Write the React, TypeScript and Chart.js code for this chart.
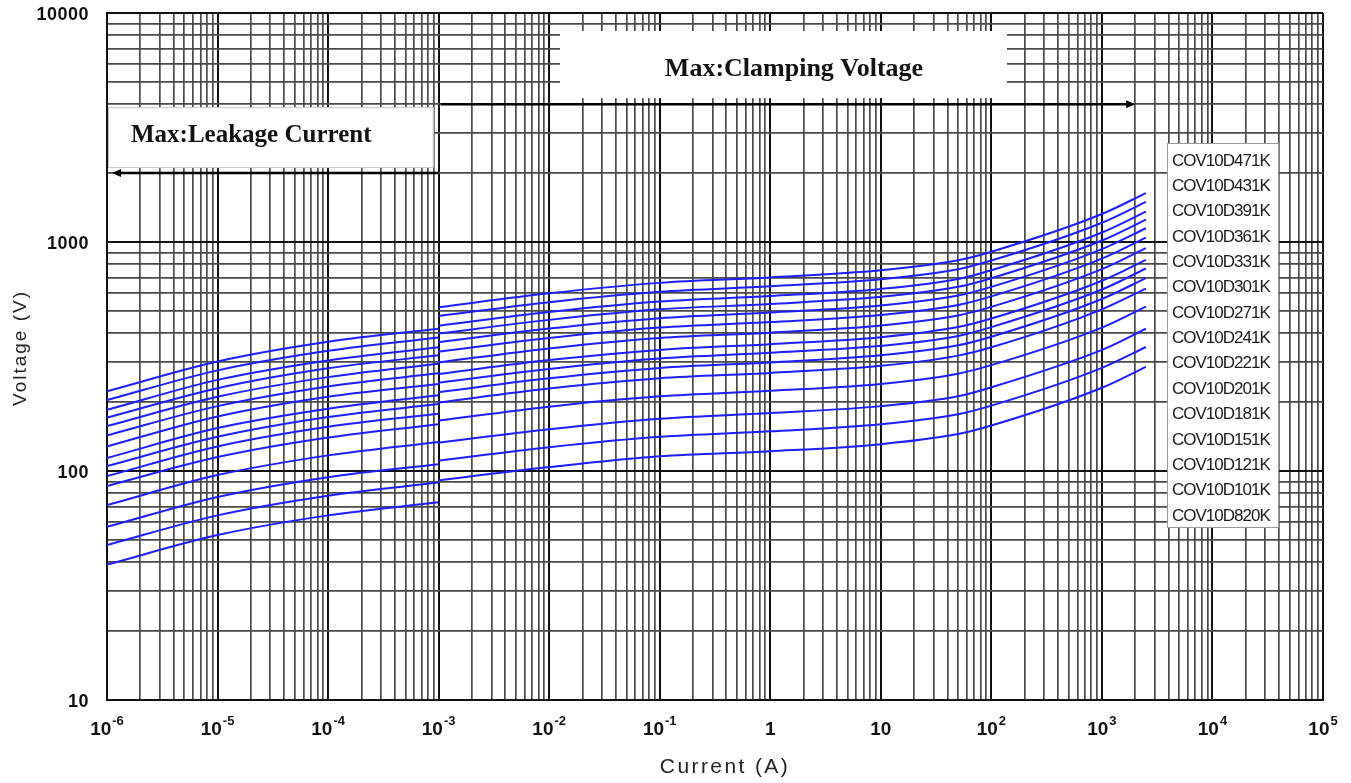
import { useEffect, useRef } from 'react';
import { Chart, registerables } from 'chart.js';

Chart.register(...registerables);

// Current (A) sample points
const CURRENT_LEAK = [1e-6, 1e-5, 1e-4, 1e-3];
const CURRENT_CLAMP = [1e-3, 1e-2, 1e-1, 1, 10, 50, 100, 1000, 2500];

const MODELS = [
  'COV10D471K', 'COV10D431K', 'COV10D391K', 'COV10D361K', 'COV10D331K',
  'COV10D301K', 'COV10D271K', 'COV10D241K', 'COV10D221K', 'COV10D201K',
  'COV10D181K', 'COV10D151K', 'COV10D121K', 'COV10D101K', 'COV10D820K',
];

// Max leakage current curves (V)
const LEAK_471K = [223, 301, 367, 418];
const LEAK_431K = [204, 275, 335, 383];
const LEAK_391K = [185, 250, 304, 347];
const LEAK_361K = [171, 230, 281, 320];
const LEAK_331K = [157, 211, 257, 294];
const LEAK_301K = [143, 192, 234, 267];
const LEAK_271K = [128, 173, 211, 240];
const LEAK_241K = [114, 154, 187, 214];
const LEAK_221K = [105, 141, 172, 196];
const LEAK_201K = [95, 128, 156, 178];
const LEAK_181K = [86, 115, 140, 160];
const LEAK_151K = [71, 96, 117, 134];
const LEAK_121K = [57, 77, 94, 107];
const LEAK_101K = [47.5, 64, 78, 89];
const LEAK_820K = [39, 52.5, 64, 73];

// Max clamping voltage curves (V)
const CLAMP_471K = [519, 597, 663, 700, 752, 832, 907, 1325, 1636];
const CLAMP_431K = [475, 546, 606, 641, 688, 761, 830, 1213, 1496];
const CLAMP_391K = [431, 495, 550, 581, 624, 690, 753, 1100, 1357];
const CLAMP_361K = [398, 457, 508, 536, 576, 637, 695, 1015, 1253];
const CLAMP_331K = [365, 419, 465, 492, 528, 584, 637, 931, 1148];
const CLAMP_301K = [332, 381, 423, 447, 480, 531, 579, 846, 1044];
const CLAMP_271K = [298, 343, 381, 402, 432, 478, 521, 761, 940];
const CLAMP_241K = [265, 305, 338, 358, 384, 425, 463, 677, 835];
const CLAMP_221K = [243, 279, 310, 328, 352, 389, 425, 620, 766];
const CLAMP_201K = [221, 254, 282, 298, 320, 354, 386, 564, 696];
const CLAMP_181K = [199, 229, 254, 268, 288, 319, 347, 508, 626];
const CLAMP_151K = [166, 191, 212, 224, 240, 266, 290, 423, 522];
const CLAMP_121K = [133, 152, 169, 179, 192, 212, 232, 338, 418];
const CLAMP_101K = [111, 127, 141, 149, 160, 177, 193, 282, 348];
const CLAMP_820K = [91, 104, 116, 122, 131, 145, 158, 231, 285];

const LEAK_SERIES = [
  LEAK_471K, LEAK_431K, LEAK_391K, LEAK_361K, LEAK_331K, LEAK_301K, LEAK_271K, LEAK_241K,
  LEAK_221K, LEAK_201K, LEAK_181K, LEAK_151K, LEAK_121K, LEAK_101K, LEAK_820K,
];
const CLAMP_SERIES = [
  CLAMP_471K, CLAMP_431K, CLAMP_391K, CLAMP_361K, CLAMP_331K, CLAMP_301K, CLAMP_271K, CLAMP_241K,
  CLAMP_221K, CLAMP_201K, CLAMP_181K, CLAMP_151K, CLAMP_121K, CLAMP_101K, CLAMP_820K,
];

const X_TICK_EXPONENTS = [-6, -5, -4, -3, -2, -1, 0, 1, 2, 3, 4, 5];
const Y_TICK_VALUES = [10, 100, 1000, 10000];
const Y_TICK_LABELS = ['10', '100', '1000', '10000'];

const X_MIN = 1e-6;
const X_MAX = 1e5;
const Y_MIN = 10;
const Y_MAX = 10000;

const LINE_COLOR = '#1e1eff';

function gridValues(min: number, max: number) {
  const out: number[] = [];
  const e0 = Math.round(Math.log10(min));
  const e1 = Math.round(Math.log10(max));
  for (let e = e0; e < e1; e++) {
    for (let m = 1; m <= 9; m++) out.push(parseFloat((m * Math.pow(10, e)).toPrecision(6)));
  }
  out.push(max);
  return out;
}

function isMajor(v: number | undefined) {
  if (v === undefined || v <= 0) return false;
  const l = Math.log10(v);
  return Math.abs(l - Math.round(l)) < 1e-6;
}

const overlayPlugin = {
  id: 'overlay',
  afterDraw(chart: any) {
    const ctx: CanvasRenderingContext2D = chart.ctx;
    const xs = chart.scales.x;
    const ys = chart.scales.y;
    const area = chart.chartArea;
    ctx.save();

    // --- Annotation boxes ---
    const x1mA = xs.getPixelForValue(1e-3);
    const y4000 = ys.getPixelForValue(4000);
    const y2000 = ys.getPixelForValue(2000);

    // Leakage box
    ctx.fillStyle = '#ffffff';
    const lbL = area.left + 1;
    const lbR = x1mA - 5;
    const lbT = y4000 + 3;
    const lbB = y2000 - 5;
    ctx.fillRect(lbL, lbT, lbR - lbL, lbB - lbT);
    ctx.strokeStyle = '#c8c8c8';
    ctx.lineWidth = 1;
    ctx.strokeRect(lbL + 0.5, lbT + 0.5, lbR - lbL - 1, lbB - lbT - 1);

    // Clamping box
    const cbL = 560;
    const cbR = 1007;
    const cbT = 31;
    const cbB = y4000 - 6;
    ctx.fillRect(cbL, cbT, cbR - cbL, cbB - cbT);

    ctx.fillStyle = '#111';
    ctx.textBaseline = 'middle';
    ctx.textAlign = 'left';
    ctx.font = 'bold 25px "Liberation Serif", "Times New Roman", serif';
    ctx.fillText('Max:Leakage Current', 131, 136);
    ctx.textAlign = 'center';
    ctx.font = 'bold 26px "Liberation Serif", "Times New Roman", serif';
    ctx.fillText('Max:Clamping Voltage', 794, 69);

    // Arrows
    ctx.strokeStyle = '#000';
    ctx.fillStyle = '#000';
    ctx.lineWidth = 2.5;
    // leakage arrow (leftwards)
    const la0 = x1mA;
    const la1 = area.left + 5;
    ctx.beginPath();
    ctx.moveTo(la0, y2000);
    ctx.lineTo(la1 + 6, y2000);
    ctx.stroke();
    ctx.beginPath();
    ctx.moveTo(la1, y2000);
    ctx.lineTo(la1 + 9, y2000 - 4);
    ctx.lineTo(la1 + 9, y2000 + 4);
    ctx.closePath();
    ctx.fill();
    // clamping arrow (rightwards)
    const ca0 = x1mA + 2;
    const ca1 = xs.getPixelForValue(2000);
    ctx.beginPath();
    ctx.moveTo(ca0, y4000);
    ctx.lineTo(ca1 - 6, y4000);
    ctx.stroke();
    ctx.beginPath();
    ctx.moveTo(ca1, y4000);
    ctx.lineTo(ca1 - 9, y4000 - 4);
    ctx.lineTo(ca1 - 9, y4000 + 4);
    ctx.closePath();
    ctx.fill();

    // --- Legend box ---
    const lgL = 1167;
    const lgR = 1279;
    const lgT = 143;
    const lgB = 528;
    ctx.fillStyle = '#fff';
    ctx.fillRect(lgL, lgT, lgR - lgL, lgB - lgT);
    ctx.strokeStyle = '#9a9a9a';
    ctx.lineWidth = 1;
    ctx.strokeRect(lgL + 0.5, lgT + 0.5, lgR - lgL - 1, lgB - lgT - 1);
    ctx.fillStyle = '#1a1a1a';
    ctx.textAlign = 'left';
    ctx.textBaseline = 'middle';
    ctx.font = '17px "Liberation Sans", Arial, sans-serif';
    (ctx as any).letterSpacing = '-1px';
    chart.data.datasets.forEach((ds: any, i: number) => {
      ctx.fillText(ds.label, lgL + 5, 161 + i * 25.35);
    });
    (ctx as any).letterSpacing = '0px';

    // --- Y tick labels ---
    ctx.fillStyle = '#111';
    ctx.textAlign = 'right';
    ctx.textBaseline = 'middle';
    ctx.font = 'bold 18px "Liberation Sans", Arial, sans-serif';
    (ctx as any).letterSpacing = '0.5px';
    Y_TICK_VALUES.forEach((v, i) => {
      ctx.fillText(Y_TICK_LABELS[i], area.left - 18, ys.getPixelForValue(v) + 2);
    });
    (ctx as any).letterSpacing = '0px';

    // --- X tick labels ---
    ctx.textAlign = 'left';
    ctx.textBaseline = 'alphabetic';
    const baseFont = 'bold 19px "Liberation Sans", Arial, sans-serif';
    const supFont = 'bold 13px "Liberation Sans", Arial, sans-serif';
    X_TICK_EXPONENTS.forEach((e) => {
      const px = xs.getPixelForValue(Math.pow(10, e));
      let base = '10';
      let sup = '';
      if (e === 0) base = '1';
      else if (e !== 1) sup = String(e);
      ctx.font = baseFont;
      const wb = ctx.measureText(base).width;
      ctx.font = supFont;
      const wsp = sup ? ctx.measureText(sup).width + 1 : 0;
      const start = px - (wb + wsp) / 2;
      ctx.font = baseFont;
      ctx.fillText(base, start, 735);
      if (sup) {
        ctx.font = supFont;
        ctx.fillText(sup, start + wb + 1, 725);
      }
    });

    // --- Axis titles ---
    ctx.fillStyle = '#222';
    ctx.textAlign = 'center';
    ctx.textBaseline = 'middle';
    ctx.font = '21px "Liberation Sans", Arial, sans-serif';
    (ctx as any).letterSpacing = '2.4px';
    ctx.fillText('Current (A)', 725, 767);
    ctx.save();
    ctx.translate(21, 348);
    ctx.rotate(-Math.PI / 2);
    ctx.font = '19px "Liberation Sans", Arial, sans-serif';
    (ctx as any).letterSpacing = '2px';
    ctx.fillText('Voltage (V)', 0, 0);
    ctx.restore();
    (ctx as any).letterSpacing = '0px';

    ctx.restore();
  },
};

export default function App() {
  const canvasRef = useRef<HTMLCanvasElement | null>(null);

  useEffect(() => {
    document.body.style.margin = '0';
    document.body.style.overflow = 'hidden';
    const canvas = canvasRef.current;
    if (!canvas) return;

    const datasets = MODELS.map((label, i) => {
      const leak = CURRENT_LEAK.map((x, j) => ({ x, y: LEAK_SERIES[i][j] as number | null }));
      const clamp = CURRENT_CLAMP.map((x, j) => ({ x, y: CLAMP_SERIES[i][j] as number | null }));
      return {
        label,
        data: [...leak, { x: 1e-3, y: null }, ...clamp],
        borderColor: LINE_COLOR,
        backgroundColor: LINE_COLOR,
        borderWidth: 2,
        pointRadius: 0,
        fill: false,
        spanGaps: false,
        cubicInterpolationMode: 'monotone' as const,
      };
    });

    const xGrid = gridValues(X_MIN, X_MAX);
    const yGrid = gridValues(Y_MIN, Y_MAX);

    const gridColor = (c: any) => (isMajor(c.tick && c.tick.value) ? '#111111' : '#4a4a4a');
    const gridWidth = (c: any) => (isMajor(c.tick && c.tick.value) ? 2 : 1.7);

    const chart = new Chart(canvas, {
      type: 'line',
      data: { datasets },
      options: {
        responsive: false,
        animation: false,
        events: [],
        layout: { padding: { top: 13, right: 28, left: 0, bottom: 0 } },
        plugins: {
          legend: { display: false },
          tooltip: { enabled: false },
          title: { display: false },
        },
        scales: {
          x: {
            type: 'logarithmic',
            position: 'bottom',
            min: X_MIN,
            max: X_MAX,
            afterBuildTicks: (scale: any) => {
              scale.ticks = xGrid.map((v) => ({ value: v }));
            },
            afterFit: (scale: any) => {
              scale.height = 83;
            },
            ticks: { display: false },
            grid: { color: gridColor, lineWidth: gridWidth, drawTicks: false },
            border: { display: true, color: '#111111', width: 2 },
          },
          y: {
            type: 'logarithmic',
            position: 'left',
            min: Y_MIN,
            max: Y_MAX,
            afterBuildTicks: (scale: any) => {
              scale.ticks = yGrid.map((v) => ({ value: v }));
            },
            afterFit: (scale: any) => {
              scale.width = 107;
            },
            ticks: { display: false },
            grid: { color: gridColor, lineWidth: gridWidth, drawTicks: false },
            border: { display: true, color: '#111111', width: 2 },
          },
        },
      } as any,
      plugins: [overlayPlugin],
    });

    return () => {
      chart.destroy();
    };
  }, []);

  return (
    <div style={{ width: 1351, height: 783, background: '#fff' }}>
      <canvas ref={canvasRef} width={1351} height={783} style={{ display: 'block' }} />
    </div>
  );
}
